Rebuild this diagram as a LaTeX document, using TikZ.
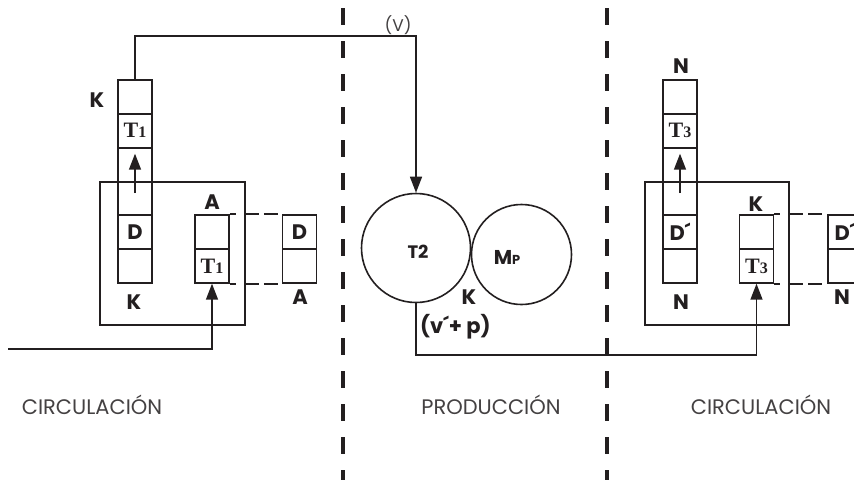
\documentclass[tikz,border=0pt]{standalone}
\usepackage{fontspec}
\setmainfont{Poppins}
\newfontfamily\serf{Liberation Serif}
\usetikzlibrary{arrows.meta}
\definecolor{ink}{HTML}{231F20}
\tikzset{
  cell/.style={draw=ink, line width=1.8pt, minimum width=34pt, minimum height=33.8pt, inner sep=0pt, font=\bfseries\fontsize{21}{21}\selectfont, text=ink},
  lab/.style={inner sep=0pt, font=\bfseries\fontsize{21}{21}\selectfont, text=ink},
  zone/.style={inner sep=0pt, font=\fontsize{21}{21}\selectfont, text=ink!85},
  frame/.style={draw=ink, line width=1.5pt},
  conn/.style={draw=ink, line width=1.5pt},
  tip/.style={-{Triangle[length=16pt,width=12pt]}},
  sep/.style={draw=ink, line width=4pt, dash pattern=on 16.5pt off 16.5pt},
  dsh/.style={draw=ink, line width=1.8pt, dash pattern=on 6pt off 10pt on 13pt off 5pt on 14pt off 6pt},
  circ/.style={draw=ink, line width=1.6pt, circle, inner sep=0pt}
}
\newcommand{\Tsub}[1]{{\serf\bfseries\fontsize{22}{22}\selectfont T\fontsize{16}{16}\selectfont #1}}
\begin{document}
\begin{tikzpicture}[x=1pt,y=-1pt]
\useasboundingbox (0,0) rectangle (854,480);
% separators
\draw[sep, dash phase=-8pt] (343,0) -- (343,480);
\draw[sep, dash phase=-8pt] (607,0) -- (607,480);
% left big box
\draw[frame] (100,182) rectangle (245,325);
% left column
\node[cell] (L1) at (135,96.9) {};
\node[cell] (L2) at (135,130.7) {\Tsub{1}};
\node[cell] (L3) at (135,164.5) {};
\node[cell] (L4) at (135,198.3) {};
\node[cell] (L5) at (135,232.1) {D};
\node[cell] (L6) at (135,265.9) {};
% small column
\node[cell] (LS1) at (212,232.1) {};
\node[cell] (LS2) at (212,265.9) {\Tsub{1}};
% outside column
\node[cell] (LO1) at (299.5,232.1) {D};
\node[cell] (LO2) at (299.5,265.9) {};
\draw[dsh] (LS1.north east) -- (LO1.north west);
\draw[dsh] (LS2.south east) -- (LO2.south west);
% labels left
\node[lab] (kL) at (97,100) {K};
\node[lab] (kL2) at (134,302) {K};
\node[lab] (aL) at (212,202) {A};
\node[lab] (aL2) at (300,297) {A};
% arrow in column
\draw[conn,tip] ([yshift=-12.6pt]L4.north) -- ([yshift=-7pt]L3.north);
% circles
\node[circ, minimum size=109pt] (T2) at (416,248) {};
\node[circ, minimum size=100pt] (MP) at (521.5,254.5) {};
\node[inner sep=0pt, text=ink, font=\bfseries\fontsize{18}{18}\selectfont] (t2l) at (418,251.5) {T2};
\node[inner sep=0pt, text=ink, font=\bfseries\fontsize{20}{20}\selectfont] (mpl) at (507,257) {M\fontsize{13}{13}\selectfont P};
\node[lab] (kM) at (469,297) {K};
\node[lab, anchor=west] (vp) at (420,327) {(v\textasciiacute+ p)};
\node[zone, font=\fontsize{17}{17}\selectfont] (vl) at (398,25) {(V)};
% top connector
\coordinate (c1) at (135,36);
\coordinate (c2) at (416,36);
\draw[conn,tip] (L1.north) -- (c1) -- (c2) -- (T2.north);
% left input
\coordinate (in) at (8,349);
\draw[conn,tip] (in) -| (LS2.south);
% right big box
\draw[frame] (645,182) rectangle (789,325);
\node[cell] (R1) at (680,96.9) {};
\node[cell] (R2) at (680,130.7) {\Tsub{3}};
\node[cell] (R3) at (680,164.5) {};
\node[cell] (R4) at (680,198.3) {};
\node[cell] (R5) at (680,232.1) {D\textasciiacute};
\node[cell] (R6) at (680,265.9) {};
\node[cell] (RS1) at (756.5,232.1) {};
\node[cell] (RS2) at (756.5,265.9) {\Tsub{3}};
\node[cell] (RO1) at (845,232.1) {D\textasciiacute};
\node[cell] (RO2) at (845,265.9) {};
\draw[dsh] (RS1.north east) -- (RO1.north west);
\draw[dsh] (RS2.south east) -- (RO2.south west);
\node[lab] (nR) at (681,66) {N};
\node[lab] (nR2) at (681,302) {N};
\node[lab] (kR) at (756,204) {K};
\node[lab] (nR3) at (842,297) {N};
\draw[conn,tip] ([yshift=-12.6pt]R4.north) -- ([yshift=-7pt]R3.north);
% bottom connector
\coordinate (b1) at (416,355);
\draw[conn,tip] (T2.south) -- (b1) -| (RS2.south);
% zone labels
\node[zone] (z1) at (92,405) {CIRCULACIÓN};
\node[zone] (z2) at (491,405) {PRODUCCIÓN};
\node[zone] (z3) at (761,405) {CIRCULACIÓN};
\end{tikzpicture}
\end{document}
